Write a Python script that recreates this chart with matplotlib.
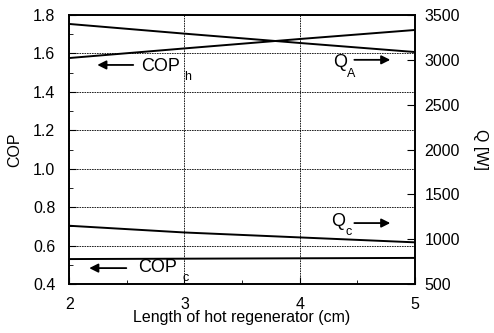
import numpy as np
import matplotlib.pyplot as plt
from matplotlib.ticker import MultipleLocator

plt.rcParams['font.family'] = ['Liberation Sans', 'DejaVu Sans']

length = [2, 3, 4, 5]
cop_h = [1.576, 1.626, 1.675, 1.722]
cop_c = [0.530, 0.532, 0.534, 0.536]
q_a = [3400, 3292, 3188, 3087]
q_c = [1150, 1075, 1020, 965]

fig = plt.figure(figsize=(4.94, 3.33), dpi=100)
ax = fig.add_axes([0.14, 0.147, 0.70, 0.808])
ax2 = ax.twinx()

ax.plot(length, cop_h, color='black', lw=1.4)
ax.plot(length, cop_c, color='black', lw=1.4)
ax2.plot(length, q_a, color='black', lw=1.4)
ax2.plot(length, q_c, color='black', lw=1.4)

ax.set_xlim(2, 5)
ax.set_ylim(0.4, 1.8)
ax2.set_ylim(500, 3500)
ax.set_xticks([2, 3, 4, 5])
ax.xaxis.set_minor_locator(MultipleLocator(0.5))
ax.yaxis.set_minor_locator(MultipleLocator(0.1))
ax.set_yticks(np.arange(0.4, 1.81, 0.2))
ax.set_yticklabels(['0.4', '0.6', '0.8', '1.0', '1.2', '1.4', '1.6', '1.8'])
ax2.set_yticks([500, 1000, 1500, 2000, 2500, 3000, 3500])

ax.tick_params(direction='in', labelsize=11.5, length=5, width=0.8)
ax.tick_params(axis='y', pad=10)
ax.tick_params(which='minor', direction='in', length=3)
ax.tick_params(axis='x', pad=9)
ax2.tick_params(direction='in', labelsize=11.5, length=6, width=0.8, pad=7)

ax.grid(True, which='major', linestyle=(0, (2, 1)), color='black', lw=0.6)
for s in list(ax.spines.values()) + list(ax2.spines.values()):
    s.set_linewidth(1.2)

ax.set_xlabel('Length of hot regenerator (cm)', fontsize=11.5, labelpad=-1)
ax.set_ylabel('COP', fontsize=11.5, labelpad=8)
ax2.set_ylabel('Q [W]', fontsize=11.5, rotation=-90, labelpad=20)

arrow = dict(arrowstyle='-|>', color='black', lw=1.3, mutation_scale=13)
ax.annotate('', xy=(2.22, 1.54), xytext=(2.58, 1.54), arrowprops=arrow)
ax.text(2.62, 1.53, 'COP', fontsize=13, va='center')
ax.text(3.0, 1.475, 'h', fontsize=9, va='center')
ax.annotate('', xy=(2.15, 0.483), xytext=(2.52, 0.483), arrowprops=arrow)
ax.text(2.6, 0.485, 'COP', fontsize=13, va='center')
ax.text(2.98, 0.43, 'c', fontsize=9, va='center')
ax2.text(4.29, 2965, 'Q', fontsize=13, va='center')
ax2.text(4.41, 2840, 'A', fontsize=9, va='center')
ax2.annotate('', xy=(4.81, 3000), xytext=(4.45, 3000), arrowprops=arrow)
ax2.text(4.27, 1195, 'Q', fontsize=13, va='center')
ax2.text(4.4, 1075, 'c', fontsize=9, va='center')
ax2.annotate('', xy=(4.81, 1180), xytext=(4.45, 1180), arrowprops=arrow)

fig.savefig('out.png', dpi=100)
